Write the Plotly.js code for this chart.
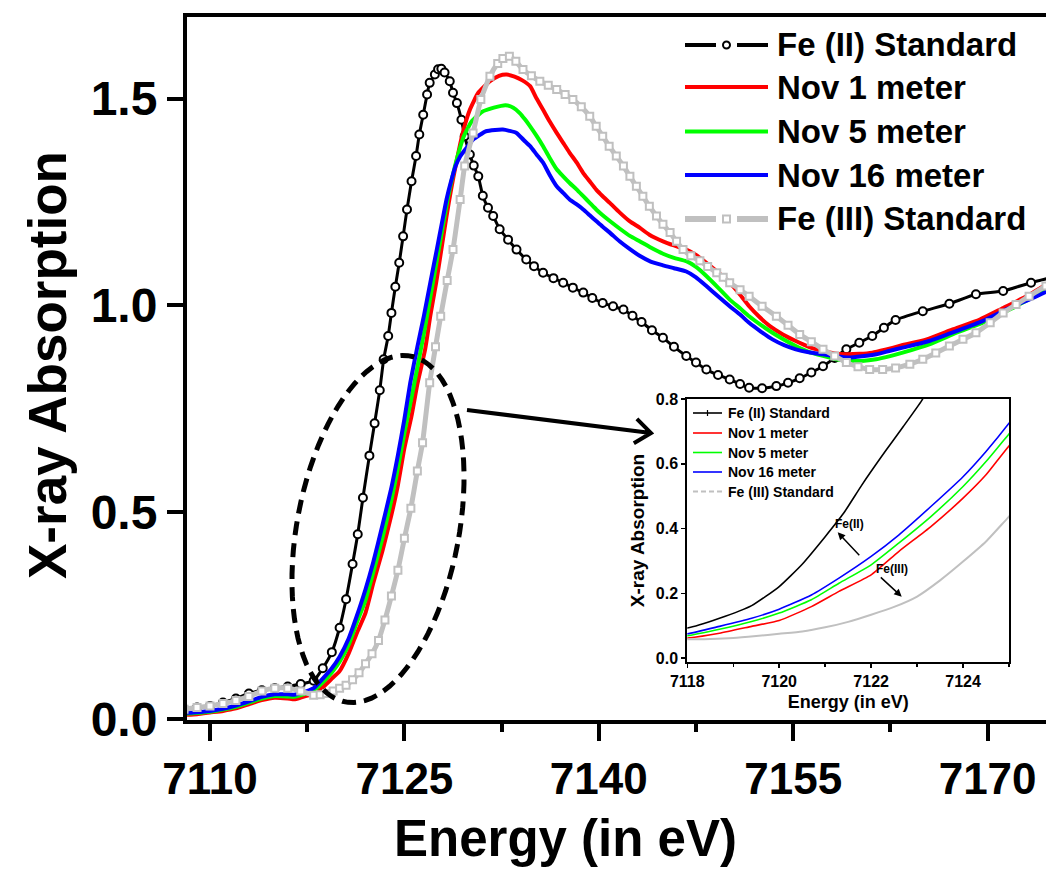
<!DOCTYPE html>
<html>
<head>
<meta charset="utf-8">
<script src="https://cdn.plot.ly/plotly-3.0.1.min.js"></script>
<style>html,body{margin:0;padding:0;background:#fff}</style>
</head>
<body>
<div id="chart" style="width:1046px;height:871px"></div>
<script>
// Fe K-edge XANES spectra: Fe(II) / Fe(III) standards and three Nov samples
const seriesNames = ['Fe (II) Standard', 'Nov 1 meter', 'Nov 5 meter', 'Nov 16 meter', 'Fe (III) Standard'];
const seriesColors = ['#000000', '#ff0000', '#00ff00', '#0000ff', '#c0c0c0'];

const fe2E = [7108.0, 7109.0, 7110.0, 7111.0, 7112.0, 7113.0, 7114.0, 7115.0, 7116.0, 7117.0, 7118.0, 7118.7, 7119.4, 7120.0, 7120.5, 7121.0, 7121.4, 7121.8, 7122.3, 7122.7, 7123.1, 7123.4, 7123.75, 7124.0, 7124.3, 7124.6, 7124.9, 7125.2, 7125.55, 7125.9, 7126.15, 7126.45, 7126.75, 7126.95, 7127.35, 7127.6, 7127.85, 7128.1, 7128.5, 7128.75, 7129.05, 7129.4, 7129.65, 7130.05, 7130.35, 7130.7, 7131.05, 7131.45, 7131.85, 7132.35, 7133.0, 7133.65, 7134.4, 7135.0, 7135.7, 7136.5, 7137.25, 7138.0, 7138.8, 7139.5, 7140.3, 7141.1, 7141.9, 7142.6, 7143.3, 7144.1, 7144.95, 7145.8, 7146.75, 7147.5, 7148.3, 7149.2, 7150.1, 7150.9, 7151.6, 7152.6, 7153.7, 7154.6, 7155.5, 7156.4, 7157.3, 7158.2, 7159.1, 7160.1, 7161.1, 7162.0, 7162.9, 7165.0, 7167.05, 7169.1, 7171.2, 7173.35, 7175.0];
const fe2A = [0.025, 0.028, 0.032, 0.040, 0.050, 0.062, 0.070, 0.075, 0.079, 0.085, 0.093, 0.123, 0.162, 0.221, 0.290, 0.375, 0.447, 0.535, 0.637, 0.715, 0.795, 0.870, 0.926, 0.982, 1.045, 1.103, 1.167, 1.232, 1.300, 1.361, 1.413, 1.461, 1.510, 1.538, 1.558, 1.571, 1.572, 1.563, 1.542, 1.514, 1.489, 1.449, 1.409, 1.365, 1.338, 1.312, 1.265, 1.236, 1.216, 1.184, 1.159, 1.135, 1.111, 1.095, 1.079, 1.066, 1.055, 1.043, 1.031, 1.018, 1.006, 0.998, 0.990, 0.975, 0.960, 0.940, 0.922, 0.900, 0.878, 0.862, 0.845, 0.832, 0.821, 0.810, 0.801, 0.800, 0.805, 0.813, 0.824, 0.838, 0.853, 0.873, 0.894, 0.910, 0.926, 0.946, 0.965, 0.986, 1.004, 1.027, 1.035, 1.055, 1.068];

const nov1E = [7108, 7109, 7110, 7111, 7112, 7113, 7114, 7115, 7116, 7116.5, 7117, 7118, 7118.7, 7119.4, 7120, 7120.7, 7121.3, 7122, 7122.6, 7123.3, 7124, 7124.5, 7125, 7125.55, 7126.0, 7126.6, 7127.0, 7127.45, 7127.85, 7128.25, 7128.6, 7128.95, 7129.5, 7130.05, 7130.7, 7131.6, 7132.3, 7132.9, 7133.5, 7134.1, 7134.7, 7135.2, 7135.7, 7136.2, 7136.75, 7137.25, 7137.75, 7138.3, 7138.8, 7139.3, 7139.8, 7140.3, 7140.85, 7141.6, 7142.4, 7143.15, 7143.9, 7144.95, 7145.8, 7146.75, 7147.5, 7148.3, 7149.2, 7150.1, 7150.9, 7151.6, 7152.4, 7153.2, 7154.2, 7155.2, 7156.2, 7157.3, 7158.2, 7159.1, 7160.1, 7161.1, 7162.1, 7163.2, 7165.3, 7167.3, 7169.4, 7171.2, 7173.0, 7175.0];
const nov1A = [0.010, 0.012, 0.016, 0.020, 0.026, 0.036, 0.046, 0.052, 0.050, 0.048, 0.052, 0.062, 0.077, 0.098, 0.116, 0.159, 0.206, 0.257, 0.329, 0.406, 0.494, 0.566, 0.655, 0.733, 0.810, 0.894, 0.975, 1.055, 1.135, 1.216, 1.280, 1.337, 1.417, 1.473, 1.514, 1.542, 1.555, 1.558, 1.553, 1.544, 1.530, 1.500, 1.473, 1.445, 1.417, 1.393, 1.369, 1.345, 1.320, 1.300, 1.280, 1.264, 1.248, 1.225, 1.203, 1.188, 1.171, 1.155, 1.145, 1.135, 1.122, 1.103, 1.080, 1.055, 1.026, 0.998, 0.972, 0.950, 0.930, 0.914, 0.900, 0.890, 0.884, 0.882, 0.883, 0.886, 0.893, 0.902, 0.918, 0.942, 0.966, 0.994, 1.022, 1.060];

const nov5E = [7108, 7109, 7110, 7111, 7112, 7113, 7114, 7115, 7116, 7116.5, 7117, 7118, 7118.7, 7119.4, 7120, 7120.7, 7121.3, 7122, 7122.6, 7123.3, 7124, 7124.5, 7125, 7125.5, 7126.0, 7126.55, 7127.0, 7127.45, 7127.9, 7128.3, 7128.7, 7129.1, 7129.6, 7130.2, 7131.0, 7131.9, 7132.8, 7133.4, 7133.9, 7134.3, 7134.7, 7135.2, 7135.7, 7136.2, 7136.75, 7137.25, 7137.75, 7138.3, 7138.8, 7139.3, 7139.8, 7140.3, 7140.85, 7141.6, 7142.4, 7143.15, 7144.0, 7144.95, 7145.8, 7146.75, 7147.5, 7148.3, 7149.2, 7150.1, 7150.9, 7151.6, 7152.5, 7153.4, 7154.3, 7155.2, 7156.2, 7157.3, 7158.3, 7159.3, 7160.3, 7161.4, 7162.4, 7163.45, 7165.5, 7167.6, 7169.6, 7171.7, 7173.5, 7175.0];
const nov5A = [0.013, 0.015, 0.018, 0.023, 0.030, 0.040, 0.050, 0.056, 0.055, 0.054, 0.058, 0.069, 0.089, 0.113, 0.139, 0.180, 0.231, 0.288, 0.355, 0.437, 0.530, 0.607, 0.692, 0.770, 0.850, 0.940, 1.020, 1.100, 1.180, 1.250, 1.310, 1.360, 1.410, 1.445, 1.468, 1.478, 1.484, 1.478, 1.465, 1.450, 1.433, 1.410, 1.385, 1.357, 1.329, 1.312, 1.296, 1.280, 1.264, 1.248, 1.232, 1.218, 1.204, 1.186, 1.168, 1.155, 1.140, 1.125, 1.115, 1.107, 1.093, 1.071, 1.043, 1.014, 0.993, 0.974, 0.953, 0.934, 0.917, 0.902, 0.888, 0.878, 0.870, 0.866, 0.866, 0.870, 0.877, 0.886, 0.906, 0.934, 0.958, 0.990, 1.020, 1.045];

const nov16E = [7108, 7109, 7110, 7111, 7112, 7113, 7114, 7115, 7116, 7116.5, 7117, 7118, 7118.7, 7119.4, 7120, 7120.7, 7121.3, 7122, 7122.6, 7123.3, 7124, 7124.5, 7125, 7125.45, 7126.0, 7126.5, 7127.0, 7127.5, 7127.9, 7128.25, 7128.6, 7128.95, 7129.3, 7129.7, 7130.3, 7130.8, 7131.3, 7132.0, 7132.6, 7133.1, 7133.65, 7134.2, 7134.7, 7135.2, 7135.7, 7136.2, 7136.75, 7137.25, 7137.75, 7138.3, 7138.8, 7139.3, 7139.8, 7140.3, 7140.85, 7141.6, 7142.4, 7143.15, 7144.0, 7144.95, 7145.8, 7146.75, 7147.5, 7148.3, 7149.2, 7150.1, 7150.9, 7151.6, 7152.5, 7153.4, 7154.3, 7155.2, 7156.2, 7157.3, 7158.3, 7159.3, 7160.3, 7161.4, 7162.4, 7163.45, 7165.5, 7167.6, 7169.6, 7171.7, 7173.5, 7175.0];
const nov16A = [0.015, 0.017, 0.020, 0.025, 0.033, 0.043, 0.054, 0.060, 0.060, 0.059, 0.063, 0.075, 0.098, 0.123, 0.151, 0.195, 0.247, 0.314, 0.380, 0.468, 0.560, 0.638, 0.725, 0.813, 0.900, 0.974, 1.055, 1.135, 1.200, 1.256, 1.300, 1.337, 1.360, 1.377, 1.401, 1.412, 1.421, 1.424, 1.425, 1.422, 1.417, 1.400, 1.385, 1.365, 1.345, 1.316, 1.288, 1.272, 1.256, 1.244, 1.232, 1.218, 1.204, 1.190, 1.176, 1.155, 1.136, 1.120, 1.106, 1.097, 1.090, 1.082, 1.068, 1.047, 1.022, 0.998, 0.978, 0.958, 0.937, 0.918, 0.904, 0.894, 0.887, 0.882, 0.877, 0.874, 0.877, 0.882, 0.890, 0.898, 0.914, 0.938, 0.962, 0.994, 1.018, 1.040];

const fe3E = [7108, 7109, 7110, 7111, 7112, 7113, 7114, 7115, 7116, 7117, 7118, 7118.5, 7119, 7119.5, 7120, 7120.5, 7121, 7121.5, 7122, 7122.5, 7123, 7123.5, 7124, 7124.5, 7125, 7125.5, 7126, 7126.4, 7126.95, 7127.4, 7127.8, 7128.3, 7128.75, 7129.3, 7129.65, 7130.3, 7130.9, 7131.6, 7132.2, 7132.6, 7133.1, 7133.6, 7134.15, 7134.8, 7135.45, 7136.1, 7136.75, 7137.4, 7138.0, 7138.65, 7139.3, 7139.8, 7140.3, 7140.8, 7141.35, 7141.9, 7142.4, 7142.9, 7143.4, 7143.9, 7144.45, 7144.95, 7145.5, 7146.0, 7146.5, 7147.1, 7147.8, 7148.4, 7149.1, 7149.6, 7150.1, 7150.9, 7151.6, 7152.6, 7153.7, 7154.6, 7155.5, 7156.4, 7157.3, 7158.2, 7159.1, 7160.0, 7160.9, 7161.9, 7162.9, 7164.0, 7165.0, 7166.0, 7167.05, 7168.1, 7169.1, 7170.2, 7171.2, 7172.2, 7173.2, 7174.5, 7175.0];
const fe3A = [0.024, 0.028, 0.032, 0.038, 0.045, 0.055, 0.068, 0.075, 0.075, 0.068, 0.058, 0.059, 0.062, 0.068, 0.075, 0.082, 0.095, 0.112, 0.134, 0.158, 0.190, 0.240, 0.298, 0.360, 0.437, 0.510, 0.600, 0.668, 0.813, 0.900, 0.974, 1.060, 1.135, 1.256, 1.337, 1.417, 1.498, 1.554, 1.585, 1.597, 1.602, 1.590, 1.570, 1.555, 1.542, 1.532, 1.522, 1.510, 1.498, 1.480, 1.457, 1.433, 1.409, 1.385, 1.361, 1.337, 1.312, 1.288, 1.264, 1.240, 1.216, 1.196, 1.176, 1.155, 1.135, 1.120, 1.108, 1.094, 1.079, 1.068, 1.055, 1.038, 1.022, 0.998, 0.974, 0.952, 0.930, 0.912, 0.894, 0.878, 0.862, 0.852, 0.845, 0.845, 0.849, 0.858, 0.870, 0.885, 0.902, 0.918, 0.934, 0.958, 0.982, 1.002, 1.022, 1.047, 1.055];

const xTicks = [7110, 7125, 7140, 7155, 7170];
const yTicks = [0.0, 0.5, 1.0, 1.5];
const insetXTicks = [7118, 7120, 7122, 7124];
const insetYTicks = [0.0, 0.2, 0.4, 0.6, 0.8];

const energies = [fe2E, nov1E, nov5E, nov16E, fe3E];
const absorb = [fe2A, nov1A, nov5A, nov16A, fe3A];

const FONT = 'Liberation Sans, Arial, sans-serif';

// page-pixel helpers for the plot frame (left 187, right 1046, top 15, bottom 720)
const PL = 187, PR = 1046, PT = 15, PB = 720;
const xp = px => (px - PL) / (PR - PL);
const yp = py => (PB - py) / (PB - PT);

const traces = [];
// main panel
energies.forEach((e, i) => {
  const t = {
    x: e, y: absorb[i], type: 'scatter', name: seriesNames[i],
    xaxis: 'x', yaxis: 'y', showlegend: false,
    mode: 'lines', line: {color: seriesColors[i], width: 4, shape: 'spline', smoothing: 0.5}
  };
  if (i === 0) {
    t.mode = 'lines+markers';
    t.line.width = 3;
    t.marker = {symbol: 'circle', size: 8, color: '#fff', line: {color: '#000', width: 2}};
  }
  if (i === 4) {
    t.mode = 'lines+markers';
    t.line.width = 5;
    t.marker = {symbol: 'square', size: 7, color: '#fff', line: {color: seriesColors[4], width: 2}};
  }
  traces.push(t);
});
// inset panel, zoomed onto the rising edge
energies.forEach((e, i) => {
  traces.push({
    x: e, y: absorb[i], type: 'scatter', name: seriesNames[i],
    xaxis: 'x2', yaxis: 'y2', showlegend: false,
    mode: 'lines', line: {color: seriesColors[i], width: i === 4 ? 2 : 1.6, shape: 'spline', smoothing: 0.5}
  });
});

const shapes = [];
const annotations = [];
const lineP = (x0, x1, y, color, w, dash) => ({type: 'line', xref: 'paper', yref: 'paper',
  x0: xp(x0), x1: xp(x1), y0: yp(y), y1: yp(y), line: {color: color, width: w, dash: dash || 'solid'}});

// legend of the main panel
const rowY = [45, 87, 131.5, 175, 219];
seriesNames.forEach((nm, i) => {
  const y = yp(rowY[i]);
  if (i === 0 || i === 4) {
    const w = i === 0 ? 4 : 6;
    shapes.push(lineP(685, 716, rowY[i], seriesColors[i], w));
    shapes.push(lineP(737, 768, rowY[i], seriesColors[i], w));
    shapes.push({type: i === 0 ? 'circle' : 'rect', xref: 'paper', yref: 'paper', xsizemode: 'pixel', ysizemode: 'pixel',
      xanchor: xp(726.5), yanchor: y, x0: -3.5, x1: 3.5, y0: -3.5, y1: 3.5,
      fillcolor: '#fff', line: {color: seriesColors[i], width: 2}});
  } else {
    shapes.push(lineP(685, 768, rowY[i], seriesColors[i], 4));
  }
  annotations.push({text: nm, xref: 'paper', yref: 'paper', x: xp(775), y: y, xanchor: 'left', yanchor: 'middle',
    showarrow: false, font: {family: FONT, size: 33, weight: 'bold', color: '#000'}});
});

// legend of the inset
const insetRowY = [413, 433, 452.5, 472, 491.5];
seriesNames.forEach((nm, i) => {
  const yy = insetRowY[i];
  if (i === 0) {
    shapes.push(lineP(693, 722, yy, '#000', 1.6));
    shapes.push(lineP(707.5, 707.5, yy, '#000', 1.2));
    shapes[shapes.length - 1].y0 = yp(yy - 3); shapes[shapes.length - 1].y1 = yp(yy + 3);
  } else if (i === 4) {
    shapes.push(lineP(693, 722, yy, seriesColors[4], 2, '5px,3px'));
  } else {
    shapes.push(lineP(693, 722, yy, seriesColors[i], 1.6));
  }
  annotations.push({text: nm, xref: 'paper', yref: 'paper', x: xp(726), y: yp(yy), xanchor: 'left', yanchor: 'middle',
    showarrow: false, font: {family: FONT, size: 14, weight: 'bold', color: '#000'}});
});

// top frame line of the main panel
shapes.push({type: 'line', xref: 'paper', yref: 'paper', x0: xp(183), x1: 1, y0: 1, y1: 1, line: {color: '#000', width: 4}});

// dashed ellipse around the edge region
(function () {
  const cx = 378, cy = 529, a = 176, b = 81, th = 10.7 * Math.PI / 180;
  let d = '';
  for (let k = 0; k <= 90; k++) {
    const t = k / 90 * 2 * Math.PI;
    const ux = b * Math.cos(t), uy = a * Math.sin(t);
    const px = cx + ux * Math.cos(th) - uy * Math.sin(th);
    const py = cy + ux * Math.sin(th) + uy * Math.cos(th);
    d += (k === 0 ? 'M' : 'L') + xp(px).toFixed(5) + ',' + yp(py).toFixed(5);
  }
  shapes.push({type: 'path', xref: 'paper', yref: 'paper', path: d + 'Z', line: {color: '#000', width: 5, dash: '14px,8px'}});
})();

// arrow from the ellipse to the inset
(function () {
  const tail = [467, 410], head = [651, 433];
  const dx = head[0] - tail[0], dy = head[1] - tail[1], len = Math.hypot(dx, dy);
  const ux = dx / len, uy = dy / len, wl = 20, ang = 38 * Math.PI / 180;
  const w1 = [head[0] - wl * (ux * Math.cos(ang) - uy * Math.sin(ang)), head[1] - wl * (uy * Math.cos(ang) + ux * Math.sin(ang))];
  const w2 = [head[0] - wl * (ux * Math.cos(ang) + uy * Math.sin(ang)), head[1] - wl * (uy * Math.cos(ang) - ux * Math.sin(ang))];
  const P = p => xp(p[0]).toFixed(5) + ',' + yp(p[1]).toFixed(5);
  shapes.push({type: 'path', xref: 'paper', yref: 'paper',
    path: 'M' + P(tail) + 'L' + P(head) + 'M' + P(w1) + 'L' + P(head) + 'L' + P(w2),
    line: {color: '#000', width: 4}});
})();

// axis titles of the main panel
annotations.push({text: 'Energy (in eV)', xref: 'paper', yref: 'paper', x: xp(565), y: yp(838), xanchor: 'center', yanchor: 'middle',
  showarrow: false, font: {family: FONT, size: 51, weight: 'bold', color: '#000'}});
annotations.push({text: 'X-ray Absorption', xref: 'paper', yref: 'paper', x: xp(47), y: yp(365), xanchor: 'center', yanchor: 'middle',
  textangle: -90, showarrow: false, font: {family: FONT, size: 53, weight: 'bold', color: '#000'}});

// inset labels with arrows
annotations.push({text: 'Fe(II)', xref: 'paper', yref: 'paper', x: xp(866), y: yp(533), showarrow: false,
  font: {family: FONT, size: 12, weight: 'bold', color: '#000'}});
annotations.push({text: 'Fe(III)', xref: 'paper', yref: 'paper', x: xp(910), y: yp(578), showarrow: false,
  font: {family: FONT, size: 12, weight: 'bold', color: '#000'}});
annotations.push({text: '', xref: 'paper', yref: 'paper', x: xp(837.7), y: yp(532.3), ax: 23, ay: 24.4,
  showarrow: true, arrowhead: 2, arrowsize: 1, arrowwidth: 1.5, arrowcolor: '#000'});
annotations.push({text: '', xref: 'paper', yref: 'paper', x: xp(901.7), y: yp(596.7), ax: -22.4, ay: -20.7,
  showarrow: true, arrowhead: 2, arrowsize: 1, arrowwidth: 1.5, arrowcolor: '#000'});

const tickFontX = {family: FONT, size: 44, weight: 'bold', color: '#000'};
const tickFontY = {family: FONT, size: 48, weight: 'bold', color: '#000'};
const tickFontInset = {family: FONT, size: 16, weight: 'bold', color: '#000'};

const layout = {
  width: 1046, height: 871,
  margin: {l: PL, r: 1046 - PR, t: PT, b: 871 - PB},
  paper_bgcolor: '#fff', plot_bgcolor: 'rgba(0,0,0,0)',
  showlegend: false,
  xaxis: {
    domain: [0, 1], anchor: 'y', range: [7108.225, 7174.506],
    tickvals: xTicks, ticks: 'outside', ticklen: 17, tickwidth: 4, tickcolor: '#000',
    showline: true, linewidth: 4, linecolor: '#000', showgrid: false, zeroline: false,
    tickfont: tickFontX,
    minor: {tickvals: [7117.5, 7132.5, 7147.5, 7162.5], ticks: 'outside', ticklen: 8, tickwidth: 4, tickcolor: '#000', showgrid: false}
  },
  yaxis: {
    domain: [0, 1], anchor: 'x', range: [-0.002, 1.702],
    tickvals: yTicks, tickformat: '.1f', ticks: 'outside', ticklen: 16, tickwidth: 4, tickcolor: '#000',
    showline: true, linewidth: 4, linecolor: '#000', showgrid: false, zeroline: false,
    tickfont: tickFontY
  },
  xaxis2: {
    domain: [xp(687.3), xp(1009)], anchor: 'y2', range: [7118, 7125],
    tickvals: insetXTicks, ticks: 'outside', ticklen: 4, tickwidth: 1.5, tickcolor: '#000',
    showline: true, mirror: true, linewidth: 2, linecolor: '#000', showgrid: false, zeroline: false,
    tickfont: tickFontInset,
    minor: {tickvals: [7119, 7121, 7123, 7125], ticks: 'outside', ticklen: 3, tickwidth: 1.5, tickcolor: '#000', showgrid: false},
    title: {text: 'Energy (in eV)', font: {family: FONT, size: 18, weight: 'bold', color: '#000'}, standoff: 6}
  },
  yaxis2: {
    domain: [yp(662), yp(399)], anchor: 'x2', range: [-0.012, 0.8],
    tickvals: insetYTicks, tickformat: '.1f', ticks: 'outside', ticklen: 4, tickwidth: 1.5, tickcolor: '#000',
    showline: true, mirror: true, linewidth: 2, linecolor: '#000', showgrid: false, zeroline: false,
    tickfont: tickFontInset,
    title: {text: 'X-ray Absorption', font: {family: FONT, size: 19, weight: 'bold', color: '#000'}, standoff: 6}
  },
  shapes: shapes,
  annotations: annotations
};

Plotly.newPlot('chart', traces, layout, {displayModeBar: false, staticPlot: true});
</script>
</body>
</html>
